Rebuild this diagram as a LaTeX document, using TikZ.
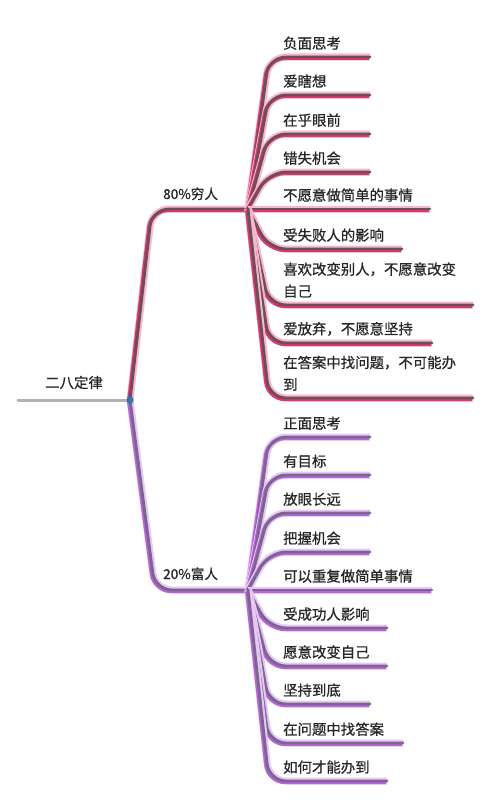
\documentclass[tikz,border=0pt]{standalone}
\usepackage{fontspec}
\setmainfont{Noto Sans CJK SC}[FakeBold=0.7]
\usetikzlibrary{calc}
\definecolor{qiongxian}{RGB}{110,78,92}
\definecolor{qiongying}{RGB}{228,52,108}
\definecolor{fuxian}{RGB}{122,104,140}
\definecolor{fuying}{RGB}{190,96,228}
\definecolor{genxian}{RGB}{178,178,178}
\definecolor{gendian}{RGB}{48,118,178}
\begin{document}
\begin{tikzpicture}[
    x=1pt,
    y=-1pt,
    font=\fontsize{14.4}{22}\selectfont,
    zhi/.style={line width=2.9pt,rounded corners=17pt,line cap=round},
    qiong/.style={zhi,draw=qiongxian,
        preaction={draw=qiongying!35,line width=7pt},
        preaction={draw=qiongying,line width=3.4pt,
            transform canvas={shift={(-1.2,1.4)}}}},
    fu/.style={zhi,draw=fuxian,
        preaction={draw=fuying!35,line width=7pt},
        preaction={draw=fuying,line width=3.4pt,
            transform canvas={shift={(-1.2,1.4)}}}},
    wenzi/.style={anchor=base west,inner sep=0pt,align=left,text=black!85}
]
    \useasboundingbox[fill=white] (0,0) rectangle (490,800);

    % 根节点
    \coordinate (gen) at (130,400);
    \coordinate (genzuo) at (18,400);
    \draw[line width=3pt,genxian,line cap=round] (genzuo) -- (gen);
    \node[wenzi] (erba) at (45,388) {二八定律};

    % 两个分支
    \coordinate (qiongdian) at (248,209);
    \coordinate (fudian) at (248,590);
    \draw[qiong] (gen) -- ([xshift=22]gen |- qiongdian) -- (qiongdian);
    \draw[fu] (gen) -- ([xshift=25]gen |- fudian) -- (fudian);
    \node[wenzi,font=\fontsize{13.6}{20}\selectfont] (qiongren) at (163,199) {80\%穷人};
    \node[wenzi,font=\fontsize{13.6}{20}\selectfont] (furen) at (163,579) {20\%富人};

    % 80%穷人的子项
    \foreach \yy/\xe/\txt [count=\i] in {
        57/370/负面思考,
        95/370/爱瞎想,
        134/370/在乎眼前,
        172/370/错失机会,
        209/430/不愿意做简单的事情,
        249/402/受失败人的影响,
        305/473/{喜欢改变别人，不愿意改变\\自己},
        343/432/爱放弃，不愿意坚持,
        398/473/{在答案中找问题，不可能办\\到}}{
        \coordinate (qmo\i) at (\xe,\yy);
        \draw[qiong] (qiongdian) -- ([xshift=21]qiongdian |- qmo\i) -- (qmo\i);
        \node[wenzi,anchor=south west] (q\i) at ($(283,\yy)+(0,-7)$) {\txt};
    }

    % 20%富人的子项
    \foreach \yy/\xe/\txt [count=\i] in {
        437/370/正面思考,
        475/370/有目标,
        513/370/放眼长远,
        552/370/把握机会,
        590/432/可以重复做简单事情,
        628/387/受成功人影响,
        666/387/愿意改变自己,
        704/370/坚持到底,
        743/403/在问题中找答案,
        781/387/如何才能办到}{
        \coordinate (fmo\i) at (\xe,\yy);
        \draw[fu] (fudian) -- ([xshift=21]fudian |- fmo\i) -- (fmo\i);
        \node[wenzi,anchor=south west] (f\i) at ($(283,\yy)+(0,-7)$) {\txt};
    }

    % 根节点圆点
    \fill[gendian] (gen) circle (3.6);
\end{tikzpicture}
\end{document}
